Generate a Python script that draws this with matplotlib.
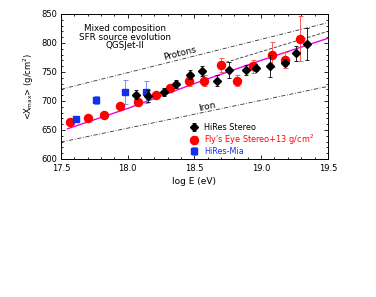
import matplotlib
matplotlib.use("Agg")
import matplotlib.pyplot as plt
from matplotlib.ticker import MultipleLocator, FormatStrFormatter

plt.rcParams['font.family'] = ['DejaVu Sans']

# HiRes Stereo (black diamonds)
hs_x = [18.06, 18.15, 18.27, 18.36, 18.47, 18.56, 18.67, 18.76, 18.89, 18.96, 19.07, 19.18, 19.26, 19.34]
hs_y = [711, 709, 715, 729, 745, 752, 735, 753, 753, 756, 760, 766, 782, 798]
hs_e = [7, 10, 7, 7, 8, 9, 10, 14, 9, 5, 19, 6, 13, 27]

# Fly's Eye Stereo + 13 (red circles)
fe_x = [17.57, 17.70, 17.82, 17.94, 18.08, 18.21, 18.32, 18.46, 18.575, 18.70, 18.82, 18.94, 19.08, 19.18, 19.29]
fe_y = [663, 670, 675, 691, 699, 711, 722, 734, 735, 762, 735, 760, 780, 771, 807]
fe_e = [4, 4, 4, 5, 5, 5, 5, 9, 9, 12, 10, 11, 22, 14, 39]

# HiRes-MIA (blue squares)
hm_x = [17.61, 17.76, 17.98, 18.14]
hm_y = [668, 701, 715, 716]
hm_e = [5, 7, 21, 19]

# Model curve (magenta)
mod_x = [17.55, 18.0, 18.5, 19.0, 19.5]
mod_y = [652, 687, 730, 770, 808]

# Protons / Iron reference lines
pr_x = [17.5, 19.5]
pr_y = [720, 835]
ir_x = [17.5, 19.5]
ir_y = [629, 725]
# extra dashed line
ds_x = [18.7, 19.5]
ds_y = [764, 820]

fig = plt.figure(figsize=(3.76, 2.97), dpi=100)
ax = fig.add_axes([0.162, 0.465, 0.710, 0.488])

ax.plot(pr_x, pr_y, color='#333333', lw=0.6, ls=(0, (5, 2, 1, 2)))
ax.plot(ir_x, ir_y, color='#333333', lw=0.6, ls=(0, (5, 2, 1, 2)))
ax.plot(ds_x, ds_y, color='#333333', lw=0.6, ls=(0, (4, 2)))
ax.plot(mod_x, mod_y, color='#ee00ee', lw=1.0)

ax.errorbar(hs_x, hs_y, yerr=hs_e, fmt='D', color='black', ms=4, elinewidth=0.6,
            capsize=1.5, capthick=0.6, label='HiRes Stereo', zorder=4)
ax.errorbar(fe_x, fe_y, yerr=fe_e, fmt='o', color='#ff0000', ecolor='#ff4444', ms=5.8,
            elinewidth=0.6, capsize=1.8, capthick=0.6,
            label="Fly's Eye Stereo+13 g/cm$^2$", zorder=3)
ax.errorbar(hm_x, hm_y, yerr=hm_e, fmt='s', color='#1030ee', ecolor='#6680ff', ms=4.6,
            elinewidth=0.6, capsize=1.8, capthick=0.6, label='HiRes-Mia', zorder=3)

ax.set_xlim(17.5, 19.5)
ax.set_ylim(600, 850)
ax.xaxis.set_major_locator(MultipleLocator(0.5))
ax.xaxis.set_minor_locator(MultipleLocator(0.1))
ax.yaxis.set_major_locator(MultipleLocator(50))
ax.yaxis.set_minor_locator(MultipleLocator(10))
ax.xaxis.set_major_formatter(FormatStrFormatter('%.1f'))
ax.tick_params(which='both', direction='in', top=True, right=True, labelsize=6, width=0.6)
ax.tick_params(axis='x', pad=3.5)
ax.tick_params(axis='y', pad=2.5)
ax.tick_params(which='major', length=3)
ax.tick_params(which='minor', length=1.5)
for s in ax.spines.values():
    s.set_linewidth(0.7)

ax.set_xlabel('log E (eV)', fontsize=6.5, labelpad=3)
ax.set_ylabel(r'<X$_{\rm max}$> (g/cm$^2$)', fontsize=6, labelpad=4)

ax.text(0.24, 0.93, 'Mixed composition\nSFR source evolution\nQGSJet-II', transform=ax.transAxes,
        ha='center', va='top', fontsize=6.3, linespacing=0.95)
ax.text(18.40, 774, 'Protons', rotation=14, fontsize=6.5, ha='center', va='bottom',
        rotation_mode='anchor')
ax.text(18.60, 683, 'Iron', rotation=12, fontsize=6.5, ha='center', va='bottom',
        rotation_mode='anchor')

leg = ax.legend(loc='center left', fontsize=5.9, frameon=False, handletextpad=0.8,
                borderaxespad=0, borderpad=0, labelspacing=0.0, handlelength=0.9,
                bbox_to_anchor=(0.485, 0.135))
for t, c in zip(leg.get_texts(), ['black', '#ff0000', '#1030ee']):
    t.set_color(c)

fig.savefig('out.png', dpi=100)
